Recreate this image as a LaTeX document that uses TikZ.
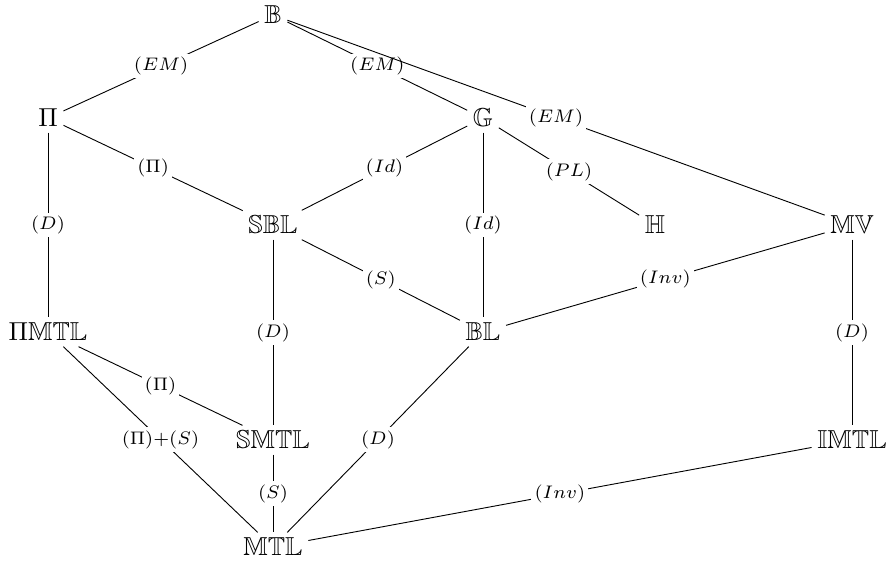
\documentclass[tikz,border=0pt]{standalone}
\usepackage{amssymb}
\begin{document}
\begin{tikzpicture}[x=0.385pt,y=-0.385pt,
  obj/.style={inner sep=2pt},
  lab/.style={fill=white,inner sep=1.2pt,font=\scriptsize},
  edge/.style={draw,line width=0.35pt}]
\useasboundingbox (0,0) rectangle (889,571);
\node[obj] (B) at (273,15) {$\mathbb{B}$};
\node[obj] (P) at (48,118) {$\Pi$};
\node[obj] (G) at (483,118) {$\mathbb{G}$};
\node[obj] (SBL) at (273,225) {$\mathbb{SBL}$};
\node[obj] (H) at (655,225) {$\mathbb{H}$};
\node[obj] (MV) at (852,225) {$\mathbb{MV}$};
\node[obj] (PMTL) at (48,332) {$\Pi\mathbb{MTL}$};
\node[obj] (BL) at (483,332) {$\mathbb{BL}$};
\node[obj] (SMTL) at (273,440) {$\mathbb{SMTL}$};
\node[obj] (IMTL) at (852,440) {$\mathbb{IMTL}$};
\node[obj] (MTL) at (273,547) {$\mathbb{MTL}$};
\path[edge] (B) -- node[lab] {$(EM)$} (P);
\path[edge] (B) -- node[lab] {$(EM)$} (G);
\path[edge] (B) -- node[lab] {$(EM)$} (MV);
\path[edge] (P) -- node[lab] {$(\Pi)$} (SBL);
\path[edge] (P) -- node[lab] {$(D)$} (PMTL);
\path[edge] (G) -- node[lab] {$(Id)$} (SBL);
\path[edge] (G) -- node[lab] {$(Id)$} (BL);
\path[edge] (G) -- node[lab] {$(PL)$} (H);
\path[edge] (SBL) -- node[lab] {$(S)$} (BL);
\path[edge] (SBL) -- node[lab] {$(D)$} (SMTL);
\path[edge] (MV) -- node[lab] {$(Inv)$} (BL);
\path[edge] (MV) -- node[lab] {$(D)$} (IMTL);
\path[edge] (PMTL) -- node[lab] {$(\Pi)$} (SMTL);
\path[edge] (PMTL) -- node[lab] {$(\Pi){+}(S)$} (MTL);
\path[edge] (SMTL) -- node[lab] {$(S)$} (MTL);
\path[edge] (BL) -- node[lab] {$(D)$} (MTL);
\path[edge] (IMTL) -- node[lab] {$(Inv)$} (MTL);
\end{tikzpicture}
\end{document}
